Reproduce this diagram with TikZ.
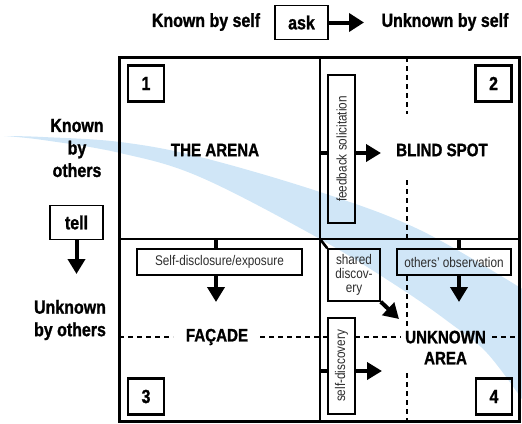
\documentclass[tikz,border=0pt]{standalone}
\usepackage{fontspec}
\setmainfont{Liberation Sans}[FakeStretch=0.84, BoldFeatures={FakeBold=1.2}]
\usetikzlibrary{arrows.meta}
\definecolor{bandblue}{RGB}{208,230,247}
\definecolor{tagtext}{RGB}{45,45,45}
\begin{document}
\begin{tikzpicture}[x=1pt, y=-1pt,
  frame/.style={line width=3pt},
  divider/.style={line width=2.6pt},
  guide/.style={line width=1.6pt, dash pattern=on 5pt off 4pt},
  numbox/.style={draw, line width=2.4pt, minimum size=36pt, inner sep=0pt,
    font=\fontsize{19}{19}\selectfont\bfseries},
  tagbox/.style={draw, line width=1.5pt, inner sep=0pt, text=tagtext,
    font=\fontsize{14}{14}\selectfont},
  areatitle/.style={font=\fontsize{18}{21}\selectfont\bfseries, align=center},
  axislabel/.style={font=\fontsize{19}{22.5}\selectfont\bfseries, align=center},
  verbbox/.style={draw, line width=1.8pt, minimum width=53pt, minimum height=34pt,
    inner sep=0pt, font=\fontsize{19}{19}\selectfont\bfseries},
  bigarrow/.style={line width=4pt, -{Triangle[width=17pt,length=15pt]}},
  stub/.style={line width=3.5pt}]

\useasboundingbox (0,0) rectangle (522,423);

% sweeping light-blue band behind the window
\fill[bandblue]
  plot[smooth, tension=0.6] coordinates {(4,136) (43,137) (120,142) (200,157) (320,192) (420,230) (524,290)}
  -- plot[smooth, tension=0.6] coordinates {(524,402) (487,353) (450,323) (400,288) (320,239) (200,177) (120,153) (43,140) (4,136)}
  -- cycle;

% axis headings
\node[axislabel] (kself) at (206,22) {Known by self};
\node[verbbox] (ask) at (301.5,22.5) {ask};
\coordinate (asktip) at (364,22.5);
\draw[line width=4pt, -{Triangle[width=18pt,length=15pt]}] (ask.east) -- (asktip);
\node[axislabel] (uself) at (445,22) {Unknown by self};

\node[axislabel] (kothers) at (77,148) {Known\\by\\others};
\node[verbbox] (tell) at (76.5,222.5) {tell};
\coordinate (telltip) at (76.5,274);
\draw[bigarrow] (tell.south) -- (telltip);
\node[axislabel] (uothers) at (70,320) {Unknown\\by others};

% window frame and dividers
\draw[frame] (119,57) rectangle (519,421);
\draw[divider] (320,57) -- (320,421);
\draw[divider] (119,239) -- (519,239);

% dashed guide lines
\draw[guide] (407,57) -- (407,114);
\draw[guide] (407,180) -- (407,239);
\draw[guide] (407,276) -- (407,328);
\draw[guide] (407,373) -- (407,421);
\draw[guide] (119,337) -- (173,337);
\draw[guide] (260,337) -- (328,337);
\draw[guide] (355,337) -- (401,337);
\draw[guide] (492,337) -- (519,337);

% quadrant numbers
\node[numbox] (n1) at (146,83.5) {1};
\node[numbox] (n2) at (493.5,83.5) {2};
\node[numbox] (n3) at (146,396.5) {3};
\node[numbox] (n4) at (494,396.5) {4};

% quadrant titles
\node[areatitle] (arena) at (215,150) {THE ARENA};
\node[areatitle] (blind) at (442,150) {BLIND SPOT};
\node[areatitle] (facade) at (217,337) {FAÇADE};
\node[areatitle] (unknown) at (445.5,347.5) {UNKNOWN\\AREA};

% feedback solicitation
\node[tagbox, rotate=90, minimum width=148pt, minimum height=27pt] (fb) at (341.5,149) {feedback solicitation};
\coordinate (fbin) at (320,153);
\coordinate (fbtip) at (381,153);
\draw[stub] (fbin) -- (fbin -| fb.north);
\draw[bigarrow] (fbin -| fb.south) -- (fbtip);

% self-disclosure
\node[tagbox, minimum width=165pt, minimum height=26pt] (sd) at (219.5,262) {Self-disclosure/exposure};
\coordinate (sdin) at (216,239);
\coordinate (sdtip) at (216,302);
\draw[stub] (sdin) -- (sdin |- sd.north);
\draw[bigarrow] (sdin |- sd.south) -- (sdtip);

% others' observation
\node[tagbox, minimum width=114pt, minimum height=26pt] (oo) at (454,262) {others' observation};
\coordinate (ooin) at (459,239);
\coordinate (ootip) at (459,302);
\draw[stub] (ooin) -- (ooin |- oo.north);
\draw[bigarrow] (ooin |- oo.south) -- (ootip);

% shared discovery
\node[tagbox, minimum width=52pt, minimum height=52pt, align=center,
  font=\fontsize{14}{14}\selectfont] (sh) at (354,275) {shared\\discov-\\ery};
\coordinate (corner) at (320,239);
\coordinate (shtip) at (399,319);
\draw[line width=2.6pt] (corner) -- (sh.north west);
\draw[bigarrow] (sh.south east) -- (shtip);

% self-discovery
\node[tagbox, rotate=90, minimum width=96pt, minimum height=27pt] (sdv) at (341.5,366) {self-discovery};
\coordinate (sdvin) at (320,371);
\coordinate (sdvtip) at (382,371);
\draw[stub] (sdvin) -- (sdvin -| sdv.north);
\draw[bigarrow] (sdvin -| sdv.south) -- (sdvtip);

\end{tikzpicture}
\end{document}
